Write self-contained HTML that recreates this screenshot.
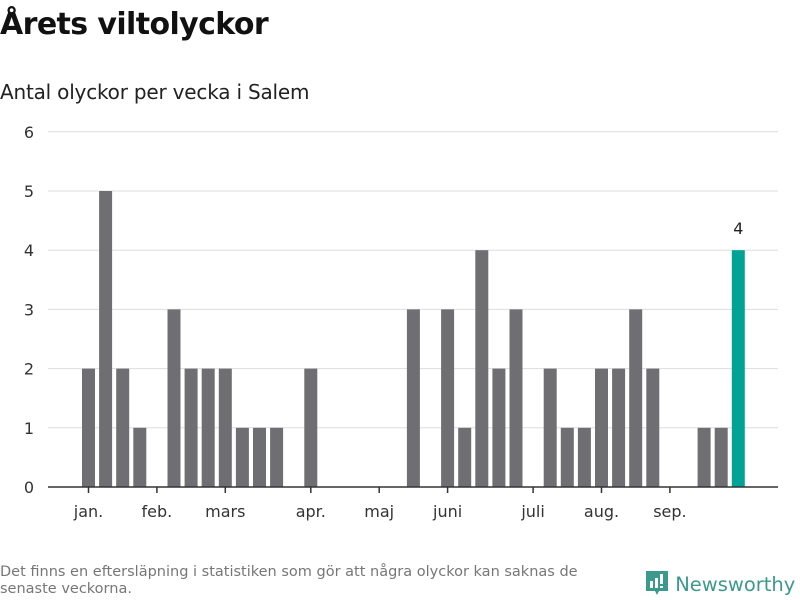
<!DOCTYPE html>
<html><head><meta charset="utf-8"><style>
body{margin:0;width:800px;height:600px;background:#fff;font-family:"DejaVu Sans","Liberation Sans",sans-serif;overflow:hidden;position:relative}
h1{position:absolute;left:0;top:7px;margin:0;font-size:30px;font-weight:bold;color:#111;letter-spacing:-0.6px}
.sub{position:absolute;left:0;top:80px;font-size:20px;color:#222;letter-spacing:-0.2px}
.note{position:absolute;left:0;top:564px;font-size:14.5px;color:#777;line-height:17px;width:625px}
.logo{position:absolute;left:645px;top:569px;font-size:19.5px;color:#3a9a8c;white-space:nowrap}
</style></head><body>
<h1>Årets viltolyckor</h1>
<div class="sub">Antal olyckor per vecka i Salem</div>
<svg id="chart" width="800" height="600" style="position:absolute;left:0;top:0"></svg>
<div class="note">Det finns en eftersläpning i statistiken som gör att några olyckor kan saknas de senaste veckorna.</div>
<div class="logo"><svg width="24" height="28" viewBox="0 0 24 28" style="vertical-align:-6px"><path d="M1 2h22v20h-9l-2 4-2-4H1z" fill="#3a9a8c"/><rect x="5" y="12" width="3" height="7" fill="#fff"/><rect x="10" y="9" width="3" height="10" fill="#fff"/><rect x="15" y="5" width="3" height="10" fill="#fff"/><rect x="15" y="17" width="3" height="2" fill="#fff"/></svg> Newsworthy</div>
<script>
const weeks=[1,2,3,4,5,6,7,8,9,10,11,12,13,14,15,16,17,18,19,20,21,22,23,24,25,26,27,28,29,30,31,32,33,34,35,36,37,38,39];
const values=[2,5,2,1,0,3,2,2,2,1,1,1,0,2,0,0,0,0,0,3,0,3,1,4,2,3,0,2,1,1,2,2,3,2,0,0,1,1,4];
const yTicks=[0,1,2,3,4,5,6];
const monthLabels=["jan.","feb.","mars","apr.","maj","juni","juli","aug.","sep."];
const monthWeekIdx=[0,4,8,13,17,21,26,30,34];
const svg=document.getElementById('chart');
const NS='http://www.w3.org/2000/svg';
const x=i=>88.5+i*17.1;
const y=v=>487-v*59.2;
function mk(t,a){const e=document.createElementNS(NS,t);for(const k in a)e.setAttribute(k,a[k]);svg.appendChild(e);return e;}
yTicks.forEach(t=>{
  if(t>0){const g=mk('line',{x1:48,x2:778,y1:y(t),y2:y(t),stroke:'#ddd','stroke-width':1});
  
  }
  const l=mk('text',{x:34,y:y(t)+6,'text-anchor':'end','font-size':16,fill:'#333'});l.textContent=t;
  
  
});
values.forEach((v,i)=>{
  const last=i===values.length-1;
  const r=mk('rect',{x:x(i)-6.5,y:y(v),width:13,height:v*59.2,fill:last?'#00a396':'#6f6e73'});
  
  
  if(last){const t=mk('text',{x:x(i),y:y(v)-16,'text-anchor':'middle','font-size':16,fill:'#222'});t.textContent=v;
  
  }
});
const ax=mk('line',{x1:48,x2:778,y1:487,y2:487,stroke:'#333','stroke-width':1.5});


monthLabels.forEach((m,j)=>{
  const cx=x(monthWeekIdx[j]);
  const tk=mk('line',{x1:cx,x2:cx,y1:487,y2:493,stroke:'#333','stroke-width':1.5});
  
  
  const t=mk('text',{x:cx,y:517,'text-anchor':'middle','font-size':16,fill:'#333'});t.textContent=m;
  
  
});
</script>
</body></html>
